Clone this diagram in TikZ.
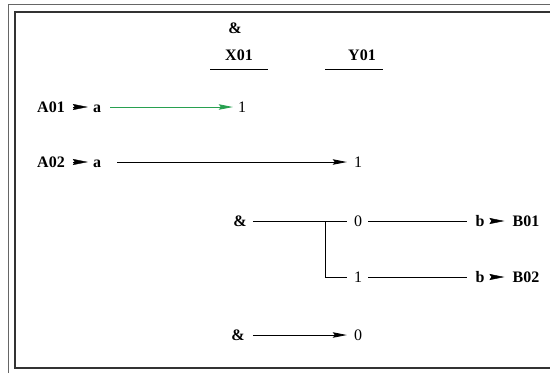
\documentclass[tikz,border=0pt]{standalone}
\usepackage{fontspec}
\setmainfont{Liberation Serif}
\usetikzlibrary{arrows.meta}
\definecolor{WireGreen}{RGB}{40,160,80}
\tikzstyle{txt} = [inner sep=0pt, text height=10.5pt, text depth=0pt, font=\fontsize{16}{19}\selectfont]
\tikzstyle{tag} = [txt, font=\fontsize{16}{19}\selectfont\bfseries]
\tikzstyle{wire} = [line width=0.8pt]
\tikzstyle{arrow} = [wire, -{Stealth[length=14pt,width=5.5pt,inset=2pt]}]
\tikzstyle{pointer} = [-{Stealth[length=15pt,width=6pt,inset=2pt]}]

\begin{document}
\begin{tikzpicture}[x=1pt,y=-1pt]
  \useasboundingbox (0,0) rectangle (550,373);

  % Frame
  \draw[line width=1pt, black!60] (8,373) -- (8,4) -- (550,4);
  \draw[line width=1.5pt, black!80] (550,12) -- (15,12) -- (15,368) -- (550,368);

  % Header
  \node[tag] (and0) at (235,28) {\&};
  \node[tag] (X01)  at (239,55) {X01};
  \node[tag] (Y01)  at (362,55) {Y01};
  \draw[wire] (210,69) -- (268,69);
  \draw[wire] (325,69) -- (383,69);

  % Inputs
  \node[tag] (A01)  at (51,107)  {A01};
  \node[tag] (a1)   at (97,107)  {a};
  \node[txt] (one1) at (242,107) {1};
  \node[tag] (A02)  at (51,162)  {A02};
  \node[tag] (a2)   at (97,162)  {a};
  \node[txt] (one2) at (358,162) {1};

  \draw[pointer, shorten <=8pt, shorten >=5pt] (A01) -- (a1);
  \draw[pointer, shorten <=8pt, shorten >=5pt] (A02) -- (a2);
  \draw[arrow, WireGreen, shorten <=9pt, shorten >=5pt] (a1) -- (one1);
  \draw[arrow, shorten <=16pt, shorten >=7pt] (a2) -- (one2);

  % Outputs
  \node[tag] (and3)  at (240,221) {\&};
  \node[txt] (zero3) at (358,221) {0};
  \node[tag] (b3)    at (480,221) {b};
  \node[tag] (B01)   at (526,221) {B01};
  \node[txt] (one4)  at (358,277) {1};
  \node[tag] (b4)    at (480,277) {b};
  \node[tag] (B02)   at (526,277) {B02};
  \coordinate (fork) at (325,221);

  \draw[wire, shorten <=6pt, shorten >=7pt] (and3) -- (zero3);
  \draw[wire, shorten >=7pt] (fork) |- (one4);
  \draw[wire, shorten <=6pt, shorten >=8pt] (zero3) -- (b3);
  \draw[wire, shorten <=6pt, shorten >=8pt] (one4) -- (b4);
  \draw[pointer, shorten <=6pt, shorten >=8pt] (b3) -- (B01);
  \draw[pointer, shorten <=6pt, shorten >=8pt] (b4) -- (B02);

  % Last row
  \node[tag] (and5)  at (238,335) {\&};
  \node[txt] (zero5) at (358,335) {0};
  \draw[arrow, shorten <=8pt, shorten >=7pt] (and5) -- (zero5);
\end{tikzpicture}
\end{document}
